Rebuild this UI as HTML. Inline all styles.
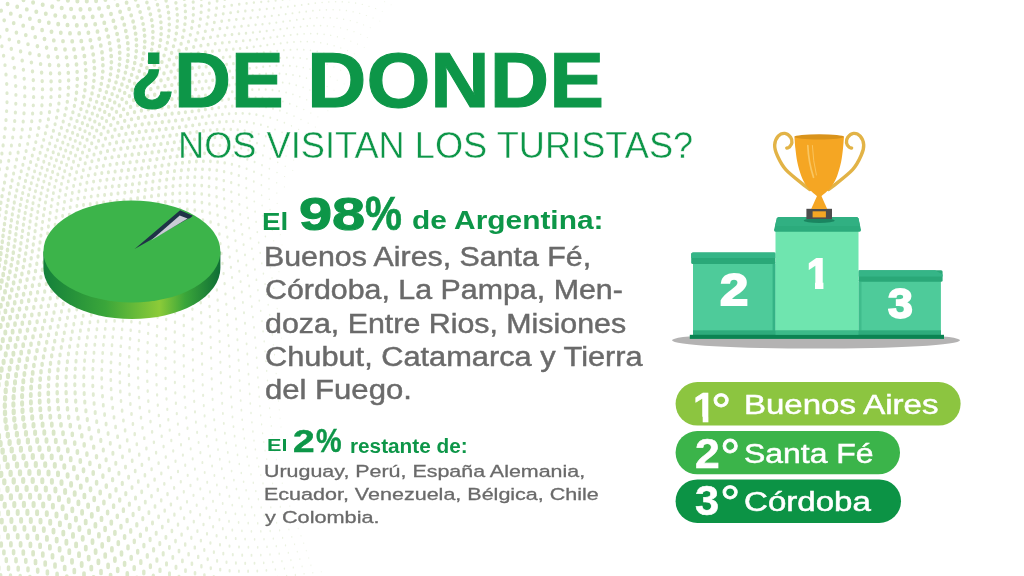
<!DOCTYPE html>
<html lang="es"><head><meta charset="utf-8"><title>¿De donde nos visitan los turistas?</title>
<style>
html,body{margin:0;padding:0}
body{width:1024px;height:576px;position:relative;overflow:hidden;background:#fff;font-family:"Liberation Sans",sans-serif}
.t{position:absolute;line-height:1;white-space:nowrap;transform-origin:0 0}
svg.g{position:absolute;left:0;top:0}

</style></head><body>
<svg class="g" width="1024" height="576" viewBox="0 0 1024 576"><g fill="none" stroke="#dae7c8" stroke-linecap="round"><path stroke-width="0.6" stroke-opacity="0.48" d="M391.2 4.7v0.1M344.2 83.9v0.2M282.0 244.8v0.3M321.3 571.5v0.5"/><path stroke-width="0.7" stroke-opacity="0.49" d="M379.8 21.1v0.1M367.4 37.4v0.1M364.3 47.3v0.1M347.6 73.7v0.2M330.8 100.3v0.2M327.8 110.6v0.2M313.2 137.4v0.2M280.4 234.4v0.3M280.7 281.8v0.3M281.5 338.0v0.4M280.1 418.2v0.5M281.0 426.8v0.4M322.8 579.0v0.5"/><path stroke-width="0.8" stroke-opacity="0.50" d="M382.3 11.3v0.1M370.3 27.7v0.1M354.3 53.8v0.2M350.9 63.7v0.2M334.0 90.2v0.2M317.9 116.8v0.2M315.4 127.0v0.2M302.3 153.8v0.2M292.7 170.3v0.3M284.4 186.8v0.3M278.0 213.7v0.3M279.1 224.1v0.3M280.2 328.3v0.4M278.5 400.8v0.5M279.3 409.6v0.5M276.4 459.2v0.6M278.2 467.3v0.5M280.1 475.2v0.5M282.3 483.0v0.5M284.6 490.7v0.6M287.1 498.3v0.6M289.8 505.8v0.6M292.5 513.3v0.6M295.3 520.7v0.6M298.2 528.2v0.6M301.0 535.5v0.6M303.7 542.9v0.6M306.3 550.3v0.6M308.7 557.7v0.6M310.9 565.0v0.7"/><path stroke-width="0.9" stroke-opacity="0.51" d="M384.6 1.7v0.1M373.1 18.0v0.2M360.7 34.3v0.2M357.5 44.0v0.2M344.1 60.3v0.2M340.7 70.1v0.2M337.3 80.1v0.2M323.8 96.5v0.2M320.8 106.6v0.2M305.9 133.2v0.3M303.9 143.5v0.3M293.6 159.9v0.3M277.2 203.3v0.3M277.1 261.2v0.4M278.9 271.5v0.4M278.7 318.3v0.5M277.0 382.7v0.5M277.7 391.8v0.5M274.9 451.0v0.6M312.8 572.4v0.7M314.3 579.8v0.7"/><path stroke-width="1.0" stroke-opacity="0.52" d="M377.9 -0.8v0.2M375.6 8.5v0.2M366.4 15.4v0.2M363.6 24.8v0.2M350.8 41.1v0.2M347.5 50.6v0.2M333.9 66.9v0.2M330.4 76.7v0.2M327.1 86.5v0.2M310.8 112.9v0.3M308.2 123.0v0.3M294.9 149.6v0.3M284.6 176.4v0.3M276.8 192.9v0.4M275.3 250.9v0.4M277.2 308.3v0.5M275.4 363.9v0.6M276.2 373.3v0.6M272.3 434.2v0.7M273.5 442.7v0.6M283.1 514.1v0.8M286.0 521.6v0.8M288.9 529.1v0.8M291.8 536.5v0.8M294.6 543.9v0.8M297.3 551.3v0.8M299.8 558.7v0.8M302.1 566.0v0.8M304.1 573.4v0.8"/><path stroke-width="1.1" stroke-opacity="0.54" d="M369.0 6.2v0.2M359.7 13.3v0.2M357.0 22.4v0.2M354.0 31.6v0.2M344.1 38.6v0.2M340.8 47.9v0.2M337.3 57.3v0.2M323.6 73.6v0.3M320.2 83.2v0.3M316.9 93.0v0.3M313.7 102.9v0.3M296.6 139.4v0.3M285.2 166.1v0.4M272.2 230.1v0.5M273.7 240.5v0.5M273.8 288.0v0.5M275.5 298.2v0.5M273.4 344.5v0.6M274.5 354.3v0.6M270.4 416.8v0.7M271.3 425.6v0.7M266.7 458.7v0.8M268.5 467.0v0.7M270.5 475.1v0.7M272.6 483.1v0.7M275.0 491.0v0.7M277.6 498.8v0.8M280.3 506.4v0.8M305.8 580.8v0.9"/><path stroke-width="1.2" stroke-opacity="0.55" d="M371.2 -2.9v0.2M362.3 4.3v0.2M353.1 11.7v0.2M350.3 20.5v0.2M340.6 27.8v0.2M347.3 29.5v0.2M337.4 36.7v0.2M334.1 45.7v0.2M330.6 54.8v0.3M327.1 64.1v0.3M309.9 89.9v0.3M306.7 99.6v0.3M303.8 109.3v0.3M301.0 119.3v0.3M298.6 129.3v0.3M286.1 155.8v0.4M276.7 182.5v0.4M269.4 199.0v0.4M270.0 209.3v0.5M271.0 219.7v0.5M270.3 267.3v0.6M272.0 277.6v0.6M271.0 324.7v0.6M272.3 334.7v0.6M268.8 398.8v0.7M269.6 407.9v0.7M263.8 441.7v0.8M265.1 450.2v0.8M260.8 474.6v0.9M263.0 482.9v0.9M265.4 491.0v0.9M268.0 499.0v0.9M270.8 506.9v0.9M273.7 514.6v0.9M276.6 522.3v0.9M279.6 529.9v0.9M282.6 537.4v0.9M285.5 544.9v0.9M288.3 552.3v0.9M290.9 559.7v0.9M293.3 567.1v0.9M295.4 574.4v1"/><path stroke-width="1.3" stroke-opacity="0.56" d="M348.9 2.1v0.2M355.6 3.0v0.2M346.4 10.5v0.2M337.0 18.2v0.2M343.6 19.1v0.2M333.9 26.6v0.2M330.7 35.2v0.2M327.4 43.9v0.3M323.9 52.8v0.3M320.3 61.8v0.3M316.8 71.0v0.3M313.3 80.4v0.3M291.5 125.7v0.4M289.3 135.6v0.4M287.5 145.7v0.4M277.0 172.3v0.4M269.0 188.7v0.5M266.9 246.5v0.6M268.6 256.9v0.6M268.2 304.3v0.7M269.7 314.5v0.7M266.7 370.5v0.8M267.5 380.1v0.7M268.1 389.5v0.7M261.6 424.0v0.8M262.6 432.9v0.8M257.0 457.7v0.9M258.7 466.2v0.9M261.2 506.9v1M264.2 514.9v1M267.2 522.7v1M270.2 530.5v1M273.3 538.1v1M276.3 545.7v1M279.2 553.2v1M281.9 560.7v1M284.4 568.1v1M286.6 575.5v1.1"/><path stroke-width="1.4" stroke-opacity="0.57" d="M335.6 1.6v0.2M342.3 1.7v0.2M333.1 9.6v0.2M339.7 9.9v0.2M330.3 17.7v0.2M327.3 25.9v0.2M324.1 34.2v0.3M320.7 42.6v0.3M317.2 51.3v0.3M313.6 60.0v0.3M310.0 69.0v0.3M306.5 78.0v0.3M303.1 87.3v0.3M299.8 96.6v0.4M296.7 106.2v0.4M294.0 115.9v0.4M278.8 152.0v0.5M277.7 162.1v0.5M269.0 178.5v0.5M262.1 205.2v0.5M263.0 215.4v0.6M264.1 225.7v0.6M265.4 236.1v0.6M265.1 283.7v0.7M266.7 294.0v0.7M264.2 341.0v0.8M265.1 350.9v0.8M266.0 360.8v0.8M259.2 396.3v0.9M259.9 405.7v0.9M260.7 415.0v0.8M254.0 440.1v0.9M255.4 449.0v0.9M249.0 465.1v0.9M251.0 473.8v0.9M253.3 482.3v1M255.8 490.6v1M258.4 498.8v1M254.6 514.8v1.1M257.7 522.8v1.1M260.8 530.8v1.1M264.0 538.6v1.1M267.0 546.3v1.1M270.0 554.0v1.1M272.8 561.5v1.1M275.4 569.0v1.1"/><path stroke-width="1.5" stroke-opacity="0.59" d="M322.1 2.4v0.2M328.8 1.9v0.2M319.7 10.1v0.2M326.4 9.7v0.2M316.9 17.7v0.3M323.6 17.6v0.2M314.0 25.6v0.3M320.6 25.5v0.3M310.7 33.5v0.3M317.4 33.6v0.3M307.3 41.5v0.3M314.0 41.8v0.3M303.8 49.6v0.3M310.5 50.2v0.3M306.9 58.7v0.3M303.3 67.4v0.3M299.7 76.1v0.4M296.2 85.1v0.4M292.9 94.2v0.4M289.8 103.5v0.4M286.9 112.9v0.4M284.4 122.5v0.4M282.1 132.2v0.4M280.2 142.0v0.5M269.4 168.4v0.5M261.6 194.9v0.5M261.8 263.0v0.7M263.4 273.3v0.7M262.0 320.7v0.8M263.1 330.9v0.8M257.9 377.1v0.9M258.6 386.8v0.9M251.0 412.5v1M251.9 421.9v0.9M252.9 431.1v0.9M244.3 438.1v1M245.7 447.3v1M247.2 456.3v1M239.3 463.5v1M241.3 472.4v1M243.6 481.2v1M246.1 489.8v1M248.8 498.3v1M251.6 506.6v1.1M248.2 522.6v1.1M251.4 530.7v1.2M254.6 538.7v1.2M257.7 546.7v1.2M260.8 554.5v1.2M263.7 562.2v1.2M277.7 576.4v1.2"/><path stroke-width="1.6" stroke-opacity="0.60" d="M315.3 3.1v0.2M312.9 10.6v0.3M310.2 18.2v0.3M307.3 25.9v0.3M304.1 33.7v0.3M300.7 41.5v0.3M297.2 49.4v0.3M300.2 57.9v0.3M296.6 66.2v0.4M293.0 74.8v0.4M289.4 83.4v0.4M286.1 92.3v0.4M282.9 101.3v0.4M279.9 110.4v0.5M277.3 119.7v0.5M275.0 129.2v0.5M273.0 138.8v0.5M271.4 148.5v0.5M270.2 158.4v0.5M261.4 184.8v0.6M254.3 201.2v0.6M255.1 211.3v0.6M256.1 221.5v0.7M257.3 231.8v0.7M258.7 242.2v0.7M260.2 252.6v0.7M257.9 289.8v0.8M259.3 300.2v0.8M260.7 310.5v0.8M255.8 347.3v0.9M256.6 357.3v0.9M257.3 367.3v0.9M249.7 393.4v1M250.3 403.0v1M242.2 419.3v1M243.2 428.8v1M235.9 445.0v1.1M237.5 454.4v1M229.5 461.3v1.1M231.6 470.5v1.1M233.9 479.6v1.1M236.4 488.5v1.1M239.1 497.3v1.1M232.3 504.6v1.2M242.0 505.9v1.1M235.4 513.3v1.2M245.0 514.3v1.1M238.6 521.9v1.2M241.9 530.3v1.2M245.1 538.6v1.2M248.4 546.6v1.3M266.4 569.8v1.2M268.8 577.3v1.3"/><path stroke-width="1.7" stroke-opacity="0.61" d="M303.6 -2.7v0.3M310.5 -3.6v0.2M301.7 4.8v0.3M308.5 3.9v0.3M299.4 12.2v0.3M306.2 11.4v0.3M296.8 19.7v0.3M303.5 18.9v0.3M300.6 26.5v0.3M297.4 34.1v0.3M294.0 41.8v0.3M290.5 49.5v0.4M293.5 57.4v0.4M289.9 65.6v0.4M286.2 73.9v0.4M282.7 82.3v0.4M279.2 90.9v0.4M262.9 155.1v0.6M262.0 164.8v0.6M261.5 174.7v0.6M253.9 191.1v0.6M253.3 258.6v0.8M254.9 269.0v0.8M256.4 279.4v0.8M252.9 316.6v0.9M254.0 326.9v0.9M255.0 337.1v0.9M247.9 363.7v1M248.5 373.7v1M249.1 383.6v1M240.1 390.1v1M240.7 400.0v1M241.4 409.7v1M232.5 416.3v1.1M233.5 426.0v1.1M224.9 432.7v1.1M234.6 435.6v1.1M226.2 442.3v1.1M218.0 449.0v1.1M227.8 451.9v1.1M219.8 458.7v1.1M221.8 468.2v1.1M214.4 474.9v1.2M224.1 477.5v1.1M216.9 484.4v1.2M226.7 486.7v1.2M219.7 493.7v1.2M229.4 495.7v1.2M222.7 502.9v1.2M225.8 511.8v1.3M229.0 520.7v1.3M232.3 529.4v1.3M235.7 537.9v1.3M251.5 554.6v1.3M254.5 562.5v1.3M257.3 570.3v1.3M259.8 578.0v1.4"/><path stroke-width="1.8" stroke-opacity="0.63" d="M296.7 -1.9v0.3M294.8 5.7v0.3M292.5 13.1v0.3M290.0 20.6v0.3M287.1 28.1v0.3M293.9 27.3v0.3M290.7 34.8v0.3M287.3 42.3v0.4M283.8 50.0v0.4M286.9 57.4v0.4M283.2 65.3v0.4M279.5 73.4v0.4M275.9 81.6v0.4M276.0 99.5v0.5M273.0 108.4v0.5M270.3 117.4v0.5M267.9 126.6v0.5M265.8 136.0v0.5M264.2 145.4v0.6M253.8 181.2v0.6M246.6 197.5v0.7M247.2 207.5v0.7M248.1 217.6v0.7M249.2 227.7v0.7M250.5 237.9v0.8M251.9 248.3v0.8M249.2 285.5v0.9M250.5 295.9v0.9M251.8 306.2v0.9M245.8 333.0v1M246.6 343.3v1M247.3 353.5v1M239.1 370.0v1M239.6 380.1v1M230.6 386.4v1.1M231.1 396.5v1.1M231.8 406.4v1.1M222.9 412.9v1.1M223.8 422.8v1.1M215.2 429.2v1.2M216.5 439.2v1.2M208.3 445.6v1.2M210.1 455.5v1.2M202.4 462.0v1.2M212.1 465.3v1.2M204.7 471.9v1.2M207.2 481.6v1.3M210.0 491.2v1.3M213.0 500.6v1.3M216.1 509.9v1.3M219.4 519.0v1.4M222.8 528.0v1.4M239.0 546.3v1.3M242.2 554.5v1.4M245.2 562.6v1.4M248.1 570.5v1.4M250.7 578.4v1.5"/><path stroke-width="1.9" stroke-opacity="0.64" d="M282.6 -0.2v0.3M289.7 -1.0v0.3M287.9 6.5v0.3M285.7 14.0v0.3M283.2 21.5v0.3M280.4 29.0v0.4M284.0 35.6v0.4M280.7 43.1v0.4M277.2 50.6v0.4M280.2 57.7v0.4M276.5 65.5v0.4M272.8 73.3v0.4M269.2 81.2v0.5M272.5 89.8v0.5M269.2 98.3v0.5M266.1 106.9v0.5M263.3 115.7v0.5M260.9 124.5v0.6M258.7 133.6v0.6M257.0 142.8v0.6M255.6 152.2v0.6M254.6 161.7v0.6M254.0 171.4v0.6M246.3 187.7v0.7M245.0 254.4v0.8M246.4 264.7v0.9M247.8 275.1v0.9M242.9 302.0v0.9M244.0 312.3v1M245.0 322.7v1M237.4 339.2v1M238.0 349.5v1M238.6 359.8v1M229.7 365.9v1.1M230.1 376.2v1.1M221.1 382.4v1.1M221.6 392.7v1.1M212.6 398.8v1.2M222.2 402.8v1.1M203.8 405.0v1.2M213.3 409.1v1.2M204.6 415.3v1.2M214.2 419.2v1.2M195.9 421.5v1.2M205.6 425.5v1.2M197.1 431.8v1.2M206.8 435.6v1.2M198.6 441.9v1.2M190.7 448.2v1.3M200.4 452.0v1.2M192.7 458.3v1.3M194.9 468.4v1.3M197.5 478.4v1.3M200.3 488.2v1.3M203.3 497.9v1.4M206.4 507.4v1.4M209.7 516.8v1.4M226.1 536.8v1.4M229.5 545.4v1.4M232.8 553.9v1.5M235.9 562.2v1.5M238.9 570.4v1.5"/><path stroke-width="2.0" stroke-opacity="0.66" d="M275.6 0.5v0.3M273.9 8.1v0.3M280.9 7.3v0.3M278.8 14.9v0.3M276.3 22.4v0.4M273.6 29.9v0.4M277.3 36.5v0.4M274.0 43.9v0.4M270.5 51.4v0.4M273.5 58.2v0.4M269.8 65.9v0.4M266.1 73.5v0.5M265.7 89.3v0.5M262.4 97.5v0.5M259.3 105.9v0.5M246.6 168.4v0.7M246.2 178.0v0.7M238.9 194.3v0.8M239.4 204.0v0.8M240.2 213.9v0.8M241.2 223.9v0.8M242.3 234.0v0.8M243.6 244.2v0.8M239.3 270.8v0.9M240.6 281.2v0.9M241.8 291.6v0.9M235.1 308.0v1M236.0 318.4v1M236.7 328.8v1M228.3 334.9v1.1M228.8 345.2v1.1M220.0 351.4v1.1M229.3 355.6v1.1M220.4 361.7v1.1M211.4 367.9v1.1M220.7 372.1v1.1M202.4 373.9v1.2M211.7 378.2v1.2M202.7 384.3v1.2M212.1 388.5v1.2M193.7 390.4v1.2M203.1 394.7v1.2M194.2 400.8v1.2M185.4 406.9v1.2M195.0 411.2v1.2M186.3 417.3v1.2M177.9 423.4v1.3M187.5 427.6v1.3M179.3 433.7v1.3M188.9 437.9v1.3M181.0 444.1v1.3M182.9 454.4v1.3M185.2 464.6v1.3M187.7 474.7v1.4M190.5 484.8v1.4M193.5 494.7v1.4M196.7 504.5v1.5M200.1 514.1v1.5M213.1 526.0v1.5M216.6 535.1v1.5M220.0 544.1v1.5M223.3 552.8v1.6M226.5 561.4v1.6M229.6 569.9v1.6M241.6 578.4v1.6"/><path stroke-width="2.1" stroke-opacity="0.68" d="M268.4 1.2v0.3M266.8 8.8v0.3M271.8 15.7v0.3M269.5 23.2v0.4M266.7 30.8v0.4M270.5 37.4v0.4M267.3 44.9v0.4M263.8 52.3v0.4M266.9 59.0v0.4M263.2 66.5v0.5M259.5 74.1v0.5M262.5 81.3v0.5M259.0 89.2v0.5M255.6 97.2v0.6M256.4 114.3v0.6M253.9 123.0v0.6M251.7 131.8v0.6M249.8 140.7v0.6M248.4 149.8v0.7M247.3 159.0v0.7M238.7 184.7v0.8M233.3 220.3v0.9M234.3 230.2v0.9M235.5 240.2v0.9M236.7 250.4v0.9M238.0 260.6v0.9M232.0 277.0v1M233.1 287.3v1M234.2 297.6v1M226.3 303.7v1.1M227.1 314.1v1.1M218.8 320.2v1.1M227.7 324.5v1.1M219.3 330.6v1.1M210.6 336.7v1.1M219.7 341.0v1.1M210.9 347.1v1.1M201.9 353.1v1.2M211.1 357.5v1.1M192.9 359.3v1.2M202.1 363.5v1.2M183.8 365.4v1.2M193.0 369.6v1.2M174.7 371.6v1.2M184.0 375.8v1.2M193.3 380.0v1.2M174.9 381.9v1.2M184.3 386.1v1.2M175.3 392.2v1.2M184.7 396.5v1.2M166.5 398.3v1.3M175.9 402.6v1.3M167.3 408.7v1.3M176.8 413.0v1.3M168.3 419.1v1.3M169.7 429.5v1.3M171.3 439.8v1.4M173.2 450.2v1.4M175.5 460.5v1.4M178.0 470.8v1.4M180.8 481.0v1.5M183.8 491.1v1.5M187.0 501.1v1.5M203.5 523.7v1.5M207.0 533.0v1.6M210.4 542.2v1.6M213.9 551.3v1.6M217.1 560.1v1.7M232.4 578.1v1.7"/><path stroke-width="2.2" stroke-opacity="0.69" d="M261.2 1.8v0.3M259.7 9.4v0.4M264.8 16.4v0.4M262.5 24.0v0.4M259.9 31.6v0.4M263.8 38.3v0.4M260.5 45.8v0.4M257.1 53.2v0.5M260.2 59.8v0.5M256.5 67.3v0.5M252.8 74.8v0.5M255.8 81.7v0.5M252.3 89.4v0.6M248.8 97.2v0.6M252.4 105.3v0.6M249.5 113.5v0.6M246.9 121.9v0.6M244.7 130.4v0.7M242.8 139.0v0.7M241.2 147.9v0.7M240.0 156.8v0.7M239.2 166.0v0.7M238.8 175.2v0.8M231.3 191.5v0.8M231.7 201.0v0.8M232.4 210.6v0.8M227.4 236.7v0.9M228.5 246.6v1M229.7 256.6v1M230.9 266.8v1M223.6 273.1v1M224.6 283.2v1M225.5 293.5v1M217.6 299.6v1.1M218.2 309.9v1.1M209.9 316.1v1.1M201.4 322.3v1.1M210.3 326.4v1.1M192.6 328.6v1.2M201.6 332.5v1.2M183.7 334.9v1.2M192.7 338.7v1.2M201.8 342.8v1.2M174.7 341.4v1.2M183.7 345.0v1.2M192.8 349.0v1.2M165.6 347.8v1.2M174.6 351.3v1.2M183.7 355.2v1.2M156.4 354.4v1.2M165.5 357.7v1.2M174.6 361.4v1.2M156.3 364.2v1.3M165.5 367.8v1.2M156.3 374.1v1.3M165.6 377.8v1.3M156.6 384.1v1.3M165.9 388.1v1.3M157.1 394.3v1.3M157.8 404.5v1.3M158.8 414.8v1.4M160.1 425.1v1.4M161.7 435.5v1.4M163.6 445.9v1.4M165.8 456.3v1.5M168.3 466.6v1.5M171.0 477.0v1.5M174.1 487.2v1.6M177.3 497.4v1.6M190.4 511.0v1.6M193.8 520.8v1.6M197.4 530.4v1.6M200.9 539.8v1.7M204.3 549.2v1.7M220.2 568.8v1.7M223.1 577.4v1.8"/><path stroke-width="2.3" stroke-opacity="0.71" d="M253.9 2.4v0.4M252.5 10.1v0.4M257.8 17.1v0.4M255.6 24.7v0.4M253.0 32.3v0.4M256.9 39.1v0.4M253.8 46.6v0.5M250.4 54.1v0.5M253.5 60.7v0.5M249.8 68.2v0.5M249.1 82.3v0.6M245.6 89.9v0.6M245.7 105.1v0.6M242.7 113.1v0.6M240.0 121.2v0.7M237.7 129.5v0.7M231.9 164.0v0.8M231.4 173.0v0.8M231.2 182.2v0.8M224.1 198.4v0.9M224.7 207.7v0.9M225.4 217.2v0.9M226.3 226.9v0.9M220.4 243.2v1M221.5 253.0v1M222.5 263.0v1M215.2 269.4v1.1M216.1 279.4v1.1M208.3 285.8v1.1M216.9 289.4v1.1M200.4 292.2v1.1M208.9 295.8v1.1M192.2 298.8v1.1M200.8 302.2v1.1M209.5 305.9v1.1M183.7 305.4v1.2M192.4 308.6v1.2M201.1 312.2v1.1M166.5 309.6v1.2M175.1 312.1v1.2M183.8 315.1v1.2M192.5 318.5v1.2M157.6 316.6v1.2M166.2 318.9v1.2M175.0 321.7v1.2M183.8 325.0v1.2M148.5 323.7v1.2M157.2 325.8v1.2M166.0 328.4v1.2M174.8 331.5v1.2M139.4 331.0v1.2M148.1 332.8v1.2M156.9 335.2v1.2M165.8 338.1v1.2M138.9 339.9v1.3M147.7 342.1v1.2M156.6 344.7v1.2M138.4 349.0v1.3M147.4 351.5v1.3M138.1 358.3v1.3M147.2 361.0v1.3M138.0 367.7v1.3M147.1 370.7v1.3M138.1 377.3v1.3M147.3 380.6v1.3M138.4 387.0v1.4M147.7 390.5v1.3M139.0 396.9v1.4M148.3 400.5v1.4M149.3 410.7v1.4M150.5 420.9v1.4M152.1 431.2v1.5M153.9 441.6v1.5M156.1 452.0v1.5M158.6 462.4v1.5M161.3 472.7v1.6M164.3 483.1v1.6M180.7 507.5v1.6M184.1 517.4v1.7M187.7 527.3v1.7M191.3 537.0v1.8M207.7 558.3v1.8M210.8 567.3v1.8M213.8 576.1v1.9"/><path stroke-width="2.4" stroke-opacity="0.73" d="M246.6 3.2v0.4M245.3 10.8v0.4M250.7 17.7v0.4M248.5 25.4v0.4M246.0 33.0v0.5M250.1 39.9v0.5M247.0 47.4v0.5M243.6 55.0v0.5M246.8 61.6v0.5M243.2 69.0v0.6M246.1 75.6v0.6M242.5 83.1v0.6M238.9 90.6v0.6M242.1 97.6v0.6M238.9 105.3v0.6M235.9 113.1v0.7M233.2 121.0v0.7M235.7 137.9v0.7M234.1 146.5v0.7M232.8 155.1v0.8M224.1 171.2v0.8M223.8 180.1v0.9M223.8 189.1v0.9M216.6 196.3v0.9M217.0 205.4v0.9M217.6 214.6v0.9M218.5 224.0v1M219.4 233.5v1M212.4 240.3v1M213.3 249.8v1M206.1 256.5v1.1M214.2 259.6v1M206.9 266.1v1.1M199.3 272.8v1.1M207.6 275.9v1.1M191.5 279.6v1.1M199.9 282.5v1.1M175.1 284.3v1.1M183.4 286.5v1.1M191.8 289.1v1.1M142.1 288.4v1.2M150.2 289.0v1.2M158.5 289.9v1.2M166.8 291.4v1.2M175.1 293.4v1.2M183.6 295.8v1.2M133.4 296.3v1.2M141.6 296.7v1.2M149.9 297.4v1.2M158.2 298.7v1.2M166.6 300.4v1.2M175.1 302.7v1.2M124.5 304.3v1.2M132.8 304.4v1.2M141.1 305.0v1.2M149.5 306.0v1.2M157.9 307.6v1.2M123.7 312.3v1.2M132.1 312.7v1.2M140.5 313.5v1.2M149.0 314.8v1.2M122.9 320.4v1.2M131.4 321.1v1.2M139.9 322.2v1.2M122.1 328.7v1.3M130.7 329.6v1.2M121.4 337.1v1.3M130.1 338.2v1.3M120.8 345.6v1.3M129.6 347.1v1.3M129.2 356.1v1.3M128.9 365.2v1.4M128.9 374.5v1.4M129.1 384.0v1.4M129.6 393.6v1.4M130.4 403.3v1.5M139.8 406.9v1.4M141.0 416.9v1.5M142.5 427.1v1.5M144.3 437.4v1.5M146.4 447.6v1.6M148.9 458.0v1.6M151.6 468.4v1.6M167.5 493.3v1.7M170.9 503.6v1.7M174.4 513.7v1.8M178.0 523.8v1.8M194.8 546.6v1.8M198.2 556.0v1.9M201.4 565.3v1.9"/><path stroke-width="2.5" stroke-opacity="0.74" d="M240.0 -3.4v0.4M239.2 4.1v0.4M243.6 18.4v0.4M241.5 26.0v0.5M239.0 33.6v0.5M243.2 40.6v0.5M240.1 48.2v0.5M240.1 62.5v0.5M236.5 70.0v0.6M239.5 76.5v0.6M235.8 84.0v0.6M232.2 91.5v0.6M235.4 98.2v0.6M232.2 105.7v0.7M229.1 113.4v0.7M230.8 129.1v0.7M228.7 137.2v0.8M227.0 145.5v0.8M225.7 153.9v0.8M224.7 162.5v0.8M216.5 178.6v0.9M216.4 187.3v0.9M209.4 203.4v1M209.9 212.4v1M210.6 221.5v1M203.6 228.6v1M211.5 230.8v1M204.4 237.7v1.1M197.2 244.8v1.1M205.2 247.0v1.1M189.9 251.9v1.1M197.9 254.0v1.1M182.4 259.1v1.1M190.5 261.0v1.1M198.6 263.3v1.1M120.0 266.6v1.2M127.6 265.8v1.1M135.3 265.0v1.1M143.0 264.6v1.1M150.8 264.4v1.1M158.7 264.7v1.1M166.7 265.3v1.1M174.7 266.5v1.1M182.8 268.1v1.1M191.0 270.2v1.1M111.9 275.0v1.2M119.5 274.1v1.2M127.2 273.3v1.2M134.9 272.7v1.2M142.8 272.4v1.1M150.7 272.5v1.1M158.7 273.0v1.1M166.8 273.9v1.1M174.9 275.3v1.1M183.2 277.2v1.1M111.1 282.4v1.2M118.8 281.6v1.2M126.6 280.9v1.2M134.5 280.5v1.2M142.5 280.4v1.2M150.5 280.6v1.2M158.6 281.3v1.2M166.8 282.5v1.2M110.2 289.9v1.2M118.1 289.1v1.2M126.0 288.6v1.2M134.0 288.3v1.2M109.3 297.4v1.2M117.3 296.8v1.2M125.3 296.4v1.2M108.3 305.0v1.2M116.4 304.5v1.2M107.3 312.6v1.3M115.5 312.3v1.2M106.2 320.4v1.3M114.6 320.2v1.3M113.6 328.2v1.3M112.8 336.4v1.3M112.0 344.6v1.4M111.4 353.1v1.4M120.3 354.3v1.4M119.9 363.2v1.4M119.8 372.2v1.4M119.9 381.4v1.5M120.3 390.7v1.5M121.0 400.3v1.5M131.5 413.2v1.5M132.9 423.2v1.6M134.7 433.3v1.6M136.8 443.5v1.6M139.2 453.7v1.7M154.6 478.8v1.7M157.8 489.1v1.7M161.2 499.4v1.8M164.7 509.8v1.8M181.6 533.7v1.9M185.2 543.6v1.9M188.6 553.2v2M204.4 574.4v2"/><path stroke-width="2.6" stroke-opacity="0.76" d="M232.4 -2.2v0.4M231.7 5.1v0.4M238.0 11.6v0.4M236.3 19.2v0.4M234.4 26.7v0.5M236.3 41.3v0.5M233.3 48.9v0.5M236.8 55.8v0.5M233.4 63.3v0.6M229.8 70.9v0.6M232.8 77.4v0.6M229.1 84.9v0.6M228.7 98.9v0.7M225.5 106.4v0.7M222.4 114.0v0.7M226.4 121.2v0.7M223.9 129.0v0.8M221.8 136.9v0.8M220.0 145.0v0.8M218.6 153.2v0.8M217.6 161.5v0.9M216.8 169.9v0.9M209.2 177.5v0.9M209.0 186.0v0.9M201.7 193.5v1M209.1 194.7v0.9M201.9 202.1v1M202.3 210.8v1M195.3 218.2v1M202.9 219.6v1M195.8 226.8v1.1M188.7 234.2v1.1M196.5 235.7v1.1M92.8 248.2v1.1M99.8 247.4v1.1M106.9 246.4v1.1M114.1 245.4v1.1M121.3 244.4v1.1M128.6 243.3v1.1M173.7 240.9v1.1M181.5 241.7v1.1M189.3 243.0v1.1M92.1 255.7v1.2M99.2 254.8v1.1M106.4 253.8v1.1M113.6 252.8v1.1M120.9 251.8v1.1M128.3 250.8v1.1M135.8 249.9v1.1M143.3 249.2v1.1M150.9 248.7v1.1M158.5 248.5v1.1M166.2 248.7v1.1M174.1 249.3v1.1M181.9 250.3v1.1M91.3 263.2v1.2M98.5 262.2v1.2M105.8 261.2v1.2M113.1 260.2v1.1M120.5 259.2v1.1M128.0 258.2v1.1M135.6 257.4v1.1M143.2 256.8v1.1M150.9 256.5v1.1M158.6 256.5v1.1M166.5 256.9v1.1M174.4 257.8v1.1M90.4 270.7v1.2M97.7 269.7v1.2M105.1 268.6v1.2M112.5 267.6v1.2M89.4 278.1v1.2M96.8 277.1v1.2M104.3 276.0v1.2M88.4 285.5v1.2M95.9 284.5v1.2M103.4 283.4v1.2M94.8 291.9v1.2M102.5 290.9v1.2M93.6 299.2v1.3M101.4 298.3v1.2M92.4 306.7v1.3M100.3 305.7v1.3M91.2 314.1v1.3M99.2 313.3v1.3M98.0 320.9v1.3M96.9 328.5v1.4M105.2 328.2v1.3M95.8 336.2v1.4M104.3 336.1v1.4M103.4 344.2v1.4M102.7 352.4v1.4M102.1 360.6v1.5M111.0 361.7v1.4M110.8 370.4v1.5M110.8 379.3v1.5M111.1 388.4v1.5M122.1 409.9v1.6M123.4 419.7v1.6M125.1 429.5v1.7M127.2 439.6v1.7M141.9 464.1v1.7M144.9 474.4v1.8M148.1 484.8v1.8M151.5 495.2v1.9M168.3 519.9v1.9M171.9 530.0v2M175.5 540.1v2M191.9 562.8v2M195.0 572.2v2.1"/><path stroke-width="2.7" stroke-opacity="0.78" d="M224.8 -0.8v0.4M224.2 6.4v0.4M230.6 12.5v0.4M229.1 20.0v0.5M227.2 27.5v0.5M232.0 34.3v0.5M229.3 42.0v0.5M226.4 49.6v0.6M230.0 56.5v0.6M226.6 64.1v0.6M223.0 71.7v0.6M226.1 78.4v0.6M222.5 85.8v0.7M225.5 92.3v0.7M222.1 99.8v0.7M218.8 107.3v0.7M215.7 114.7v0.8M219.6 121.6v0.8M217.1 129.3v0.8M214.9 137.1v0.8M213.1 144.9v0.8M211.6 152.9v0.9M210.4 160.9v0.9M209.6 169.2v0.9M201.9 176.9v1M201.7 185.1v1M194.3 192.9v1M76.0 212.9v1.1M82.7 212.0v1.1M89.4 211.1v1.1M187.1 200.7v1M194.5 201.2v1M75.1 220.4v1.1M81.9 219.5v1.1M88.6 218.7v1.1M95.4 217.9v1.1M102.2 217.2v1.1M187.3 208.9v1.1M194.8 209.6v1M74.4 227.9v1.1M81.1 227.1v1.1M87.9 226.3v1.1M94.7 225.5v1.1M101.6 224.8v1.1M108.4 223.9v1.1M115.4 223.0v1.1M122.3 222.1v1.1M180.1 216.7v1.1M187.7 217.2v1.1M73.6 235.5v1.1M80.4 234.7v1.1M87.2 233.9v1.1M94.1 233.1v1.1M101.0 232.3v1.1M107.9 231.4v1.1M114.9 230.5v1.1M122.0 229.5v1.1M129.1 228.5v1.1M136.2 227.5v1.1M143.5 226.5v1.1M165.5 224.6v1.1M173.0 224.6v1.1M180.5 224.9v1.1M188.1 225.6v1.1M72.8 243.0v1.2M79.6 242.3v1.1M86.5 241.5v1.1M93.4 240.7v1.1M100.4 239.8v1.1M107.4 238.9v1.1M114.5 238.0v1.1M121.6 236.9v1.1M128.8 235.9v1.1M136.1 234.9v1.1M143.4 234.0v1.1M150.8 233.3v1.1M158.2 232.8v1.1M165.7 232.5v1.1M173.3 232.7v1.1M181.0 233.2v1.1M71.9 250.6v1.2M78.8 249.8v1.2M85.8 249.1v1.1M135.9 242.4v1.1M143.3 241.6v1.1M150.8 240.9v1.1M158.4 240.6v1.1M166.0 240.5v1.1M71.0 258.2v1.2M78.0 257.4v1.2M85.0 256.6v1.2M77.0 265.0v1.2M84.1 264.1v1.2M76.0 272.5v1.2M83.2 271.6v1.2M74.8 280.0v1.3M82.1 279.1v1.2M80.9 286.5v1.3M79.6 293.9v1.3M87.2 292.9v1.3M78.3 301.4v1.3M85.9 300.3v1.3M84.6 307.7v1.3M83.2 315.1v1.4M89.9 321.6v1.4M88.6 329.1v1.4M87.4 336.7v1.5M94.8 344.1v1.4M94.0 352.0v1.5M93.3 360.1v1.5M101.8 369.1v1.5M101.7 377.7v1.6M101.9 386.5v1.6M111.7 397.6v1.6M112.7 407.0v1.6M114.0 416.5v1.7M115.6 426.2v1.7M129.5 449.7v1.8M132.2 459.9v1.8M135.2 470.2v1.8M138.3 480.5v1.9M155.0 505.5v1.9M158.6 515.8v2M162.3 526.1v2M179.0 550.0v2.1M182.4 559.8v2.1M185.5 569.5v2.2"/><path stroke-width="2.8" stroke-opacity="0.80" d="M217.1 0.9v0.4M223.2 13.6v0.5M221.7 21.0v0.5M219.9 28.4v0.5M224.9 35.1v0.5M222.3 42.6v0.6M219.4 50.2v0.6M223.2 57.2v0.6M219.8 64.8v0.6M216.3 72.4v0.7M219.4 79.2v0.7M215.8 86.7v0.7M218.9 93.3v0.7M215.4 100.7v0.7M212.1 108.1v0.8M209.0 115.6v0.8M212.8 122.3v0.8M210.3 129.8v0.8M208.1 137.4v0.9M206.2 145.1v0.9M204.6 152.9v0.9M54.7 186.4v1M61.5 183.4v1M68.3 180.9v1M203.4 160.8v0.9M53.4 192.7v1M60.2 190.0v1M66.9 187.6v1M73.6 185.5v1M80.3 183.8v1M195.4 168.8v1M202.5 168.8v0.9M52.2 199.1v1.1M59.0 196.6v1M65.6 194.4v1M72.3 192.5v1M79.0 191.0v1M85.7 189.7v1M92.3 188.6v1M194.8 176.7v1M51.2 205.7v1.1M57.9 203.3v1.1M64.5 201.3v1.1M71.2 199.7v1M77.9 198.2v1M84.5 197.1v1M91.2 196.1v1M97.9 195.2v1M187.2 184.7v1M194.4 184.8v1M50.2 212.3v1.1M56.9 210.2v1.1M63.5 208.3v1.1M70.2 206.8v1.1M76.9 205.5v1.1M83.5 204.5v1.1M90.2 203.6v1.1M96.9 202.7v1.1M103.6 202.0v1.1M110.4 201.2v1.1M179.8 192.8v1M187.0 192.7v1M56.0 217.1v1.1M62.6 215.5v1.1M69.3 214.1v1.1M96.1 210.3v1.1M102.8 209.6v1.1M109.6 208.8v1.1M116.4 208.0v1.1M123.3 207.1v1.1M130.2 206.2v1.1M172.5 200.9v1.1M179.8 200.6v1.1M55.1 224.2v1.1M61.8 222.7v1.1M68.5 221.5v1.1M109.0 216.4v1.1M115.9 215.5v1.1M122.8 214.6v1.1M129.7 213.6v1.1M136.7 212.6v1.1M143.8 211.6v1.1M150.9 210.7v1.1M158.0 209.8v1.1M165.3 209.1v1.1M172.5 208.7v1.1M179.9 208.6v1.1M54.2 231.3v1.2M60.9 230.0v1.1M67.6 228.9v1.1M129.4 221.1v1.1M136.4 220.0v1.1M143.6 219.1v1.1M150.8 218.1v1.1M158.0 217.4v1.1M165.3 216.8v1.1M172.7 216.6v1.1M53.4 238.6v1.2M60.1 237.3v1.2M66.8 236.3v1.1M150.7 225.7v1.1M158.1 225.0v1.1M59.2 244.8v1.2M66.0 243.8v1.2M58.2 252.2v1.2M65.1 251.4v1.2M64.1 258.9v1.2M63.0 266.5v1.3M70.0 265.7v1.2M61.8 274.1v1.3M68.9 273.3v1.3M67.6 280.8v1.3M66.2 288.4v1.3M73.6 287.5v1.3M72.2 295.0v1.3M70.7 302.4v1.4M76.8 308.7v1.4M75.3 316.1v1.4M73.8 323.5v1.5M81.8 322.5v1.4M80.4 329.9v1.5M79.1 337.4v1.5M86.3 344.3v1.5M85.4 352.1v1.5M84.6 359.9v1.6M92.9 368.3v1.6M92.7 376.6v1.6M102.5 395.4v1.7M103.3 404.5v1.7M104.6 413.7v1.8M117.6 435.9v1.8M119.9 445.9v1.8M122.5 455.9v1.9M141.7 490.8v2M145.3 501.2v2M148.9 511.6v2.1M165.9 536.3v2.1M169.4 546.4v2.2M172.8 556.4v2.2M188.5 579.0v2.2"/><path stroke-width="2.9" stroke-opacity="0.82" d="M209.2 -3.7v0.4M209.3 3.0v0.5M216.6 7.9v0.5M215.7 15.0v0.5M214.3 22.2v0.5M212.6 29.5v0.5M217.8 35.9v0.5M215.2 43.4v0.6M212.4 51.0v0.6M216.3 57.9v0.6M213.0 65.5v0.7M209.5 73.1v0.7M212.7 80.0v0.7M209.1 87.6v0.7M205.5 95.0v0.8M212.2 94.2v0.7M208.7 101.6v0.8M205.4 109.1v0.8M36.3 164.8v1M43.8 161.3v1M51.2 157.6v1M202.3 116.6v0.8M34.6 170.9v1M41.9 167.2v1M49.2 163.5v1M56.4 159.7v1M63.6 155.9v1M199.4 124.0v0.9M206.1 123.1v0.8M32.9 176.9v1M40.1 173.2v1M47.3 169.4v1M54.4 165.6v1M61.5 161.9v1M68.6 158.3v1M203.5 130.5v0.9M31.3 182.8v1M38.4 179.0v1M45.5 175.2v1M52.6 171.5v1M59.6 167.9v1M66.6 164.5v1M73.5 161.3v1M201.3 138.1v0.9M29.8 188.7v1.1M36.9 184.9v1M43.9 181.1v1M50.9 177.4v1M57.8 173.9v1M64.7 170.7v1M71.6 167.7v1M78.4 165.1v1M199.3 145.7v0.9M35.5 190.7v1.1M42.4 187.1v1M49.3 183.5v1M56.2 180.1v1M63.0 177.0v1M69.8 174.2v1M76.6 171.8v1M83.3 169.7v1M90.1 167.9v1M197.7 153.3v0.9M34.2 196.6v1.1M41.1 193.0v1.1M47.9 189.6v1M75.0 178.6v1M81.7 176.7v1M88.4 175.1v1M95.1 173.7v1M189.4 161.5v1M196.4 161.0v1M33.0 202.6v1.1M39.9 199.0v1.1M46.7 195.7v1.1M86.9 182.3v1M93.6 181.1v1M100.3 180.1v1M106.9 179.3v1M188.4 169.2v1M38.8 205.2v1.1M45.5 202.0v1.1M99.0 187.6v1M105.7 186.8v1M112.3 186.0v1.1M180.6 177.4v1M187.7 176.9v1M37.8 211.4v1.1M44.5 208.4v1.1M104.6 194.4v1.1M111.3 193.6v1.1M118.0 192.9v1.1M124.8 192.1v1.1M131.5 191.2v1.1M173.0 185.6v1.1M180.1 185.1v1M36.8 217.6v1.2M43.5 214.8v1.1M117.1 200.5v1.1M123.9 199.6v1.1M130.8 198.7v1.1M137.6 197.8v1.1M144.5 196.8v1.1M151.5 195.8v1.1M158.5 194.8v1.1M165.5 193.9v1.1M172.7 193.2v1.1M42.6 221.4v1.2M49.3 219.1v1.1M137.1 205.2v1.1M144.1 204.2v1.1M151.1 203.2v1.1M158.2 202.3v1.1M165.3 201.5v1.1M41.8 228.1v1.2M48.4 226.0v1.2M47.6 232.9v1.2M46.7 240.0v1.2M45.7 247.1v1.3M52.5 245.9v1.2M51.5 253.2v1.3M50.4 260.6v1.3M57.2 259.7v1.3M56.0 267.3v1.3M54.8 274.8v1.3M60.5 281.6v1.3M59.0 289.2v1.4M64.8 295.8v1.4M63.2 303.3v1.4M61.5 310.7v1.5M69.1 309.8v1.4M67.5 317.1v1.5M65.9 324.5v1.5M72.3 330.9v1.5M70.9 338.2v1.6M77.9 344.9v1.6M76.8 352.5v1.6M84.1 367.9v1.6M83.8 376.0v1.7M92.8 385.1v1.7M93.3 393.8v1.7M94.1 402.6v1.8M106.1 423.2v1.8M108.1 432.7v1.9M110.3 442.4v1.9M125.5 466.1v1.9M128.6 476.3v2M132.0 486.6v2M152.5 521.9v2.1M156.2 532.2v2.2M159.8 542.5v2.2M176.0 566.3v2.3M179.0 576.1v2.3"/><path stroke-width="3.0" stroke-opacity="0.84" d="M201.3 -1.1v0.5M201.4 5.4v0.5M208.9 9.8v0.5M208.1 16.7v0.5M206.9 23.8v0.5M205.3 30.9v0.6M210.5 36.9v0.6M208.1 44.3v0.6M205.4 51.8v0.6M209.4 58.6v0.6M206.1 66.2v0.7M13.8 128.8v0.9M22.2 129.0v0.9M30.5 128.6v0.9M202.7 73.8v0.7M12.7 137.0v0.9M21.0 136.8v0.9M29.2 136.1v0.9M37.4 134.7v0.9M45.4 132.8v0.9M206.0 80.7v0.7M11.4 144.9v1M19.6 144.5v0.9M27.7 143.4v0.9M35.8 141.7v0.9M43.7 139.4v0.9M51.6 136.7v0.9M202.4 88.3v0.8M10.1 152.7v1M18.1 151.9v1M26.1 150.4v1M34.1 148.5v0.9M41.9 146.0v0.9M49.7 143.0v0.9M57.4 139.7v0.9M198.9 95.9v0.8M8.7 160.3v1M16.6 159.1v1M24.5 157.4v1M32.3 155.1v1M40.1 152.3v1M47.7 149.2v0.9M55.3 145.8v0.9M62.8 142.1v0.9M70.3 138.3v0.9M202.1 102.6v0.8M15.1 166.2v1M22.9 164.2v1M30.6 161.6v1M38.2 158.6v1M45.7 155.3v1M53.2 151.7v1M60.6 148.0v0.9M68.0 144.2v0.9M75.3 140.4v0.9M198.8 110.1v0.8M13.6 173.1v1M21.2 170.8v1M28.8 168.0v1M58.5 153.8v1M65.7 150.0v1M72.9 146.3v0.9M80.1 142.8v0.9M195.6 117.5v0.9M12.1 179.8v1.1M19.7 177.2v1.1M27.1 174.2v1M70.7 152.3v1M77.7 148.8v1M84.7 145.7v1M192.7 124.9v0.9M18.2 183.6v1.1M25.5 180.3v1.1M75.5 155.0v1M82.5 152.0v1M89.3 149.4v1M190.1 132.4v0.9M196.8 131.4v0.9M16.8 189.8v1.1M24.1 186.4v1.1M80.3 158.5v1M87.2 156.0v1M94.0 153.9v1M187.7 139.8v0.9M194.5 138.9v0.9M22.7 192.4v1.1M85.2 162.8v1M91.9 160.8v1M98.6 159.2v1M185.7 147.2v1M192.5 146.4v0.9M21.4 198.3v1.1M28.5 194.5v1.1M96.8 166.4v1M103.4 165.2v1M110.1 164.2v1M183.9 154.7v1M190.8 153.9v1M20.3 204.2v1.2M27.3 200.4v1.1M101.8 172.6v1M108.4 171.7v1M115.1 170.9v1M175.7 163.1v1M182.5 162.2v1M26.2 206.3v1.1M113.6 178.5v1M120.3 177.7v1.1M127.0 176.9v1.1M133.7 176.2v1.1M167.6 171.5v1M174.5 170.6v1M181.4 169.8v1M25.2 212.2v1.2M32.0 208.6v1.1M119.0 185.3v1.1M125.8 184.5v1.1M132.5 183.7v1.1M139.3 182.8v1.1M146.1 181.9v1.1M152.9 180.9v1.1M159.8 179.9v1.1M166.7 178.9v1.1M173.6 178.1v1M31.0 214.6v1.2M138.3 190.3v1.1M145.2 189.3v1.1M152.1 188.3v1.1M159.0 187.3v1.1M166.0 186.4v1.1M30.1 220.7v1.2M29.3 227.0v1.2M36.0 224.0v1.2M35.1 230.5v1.2M34.2 237.1v1.3M40.9 234.9v1.2M40.0 241.7v1.3M39.0 248.7v1.3M44.7 254.4v1.3M43.6 261.7v1.3M49.1 268.1v1.3M47.8 275.6v1.4M53.4 282.4v1.4M51.8 290.0v1.4M57.4 296.7v1.4M55.7 304.2v1.5M59.8 318.2v1.5M58.1 325.6v1.6M64.3 331.9v1.6M62.8 339.3v1.6M69.6 345.7v1.6M68.4 353.1v1.7M76.0 360.2v1.7M75.3 367.9v1.7M83.8 384.3v1.7M84.2 392.6v1.8M95.2 411.6v1.8M96.7 420.7v1.9M98.6 430.0v1.9M112.9 452.2v2M115.8 462.2v2M118.9 472.2v2.1M135.5 496.9v2.1M139.1 507.2v2.2M142.8 517.6v2.2M146.5 528.0v2.3M163.2 552.6v2.3M166.5 562.7v2.4M169.5 572.7v2.4"/><path stroke-width="3.1" stroke-opacity="0.86" d="M193.2 1.8v0.5M193.4 8.1v0.5M201.1 12.0v0.5M200.4 18.8v0.5M199.3 25.6v0.6M197.8 32.5v0.6M-2.4 81.1v0.8M203.3 38.1v0.6M-2.0 90.5v0.8M7.0 92.7v0.8M15.9 94.5v0.8M200.9 45.4v0.6M-2.0 99.8v0.8M7.0 101.8v0.8M15.8 103.3v0.8M24.6 104.4v0.8M33.3 105.0v0.8M198.3 52.7v0.7M-2.2 108.9v0.8M6.6 110.7v0.8M15.4 112.0v0.9M24.0 112.8v0.9M32.6 113.0v0.9M41.1 112.6v0.9M195.4 60.2v0.7M202.4 59.3v0.7M-2.6 117.9v0.9M6.0 119.5v0.9M14.7 120.5v0.9M23.2 121.0v0.9M31.7 120.9v0.9M40.1 120.2v0.9M48.4 118.9v0.9M56.6 117.0v0.9M199.2 66.9v0.7M-3.3 126.9v0.9M5.2 128.1v0.9M38.8 127.5v0.9M47.0 125.9v0.9M55.1 123.7v0.9M63.2 121.1v0.9M195.9 74.5v0.7M4.3 136.6v0.9M53.4 130.3v0.9M61.4 127.4v0.9M69.2 124.2v0.9M192.4 82.1v0.8M199.2 81.4v0.7M3.1 144.9v1M59.4 133.6v0.9M67.2 130.2v0.9M74.8 126.5v0.9M195.7 89.0v0.8M1.9 153.0v1M65.0 136.2v0.9M72.6 132.4v0.9M80.0 128.6v0.9M192.2 96.6v0.8M0.6 160.9v1M77.6 134.5v0.9M85.0 130.7v0.9M188.7 104.2v0.8M195.4 103.4v0.8M-0.7 168.6v1.1M7.2 167.7v1M82.5 136.7v0.9M89.6 133.2v0.9M185.4 111.7v0.9M192.1 111.0v0.8M-2.0 176.2v1.1M5.8 174.9v1.1M87.1 139.4v0.9M94.2 136.4v0.9M182.3 119.3v0.9M188.9 118.4v0.9M4.5 182.0v1.1M91.7 142.8v1M98.6 140.3v1M105.5 138.1v1M179.4 126.8v0.9M186.0 125.9v0.9M3.2 188.8v1.1M10.7 186.4v1.1M96.2 147.0v1M103.0 145.0v1M109.8 143.3v1M176.7 134.3v1M183.4 133.4v0.9M9.4 192.9v1.1M100.7 152.1v1M107.5 150.5v1M114.2 149.3v1M174.3 141.7v1M181.0 140.8v1M8.2 199.2v1.2M15.5 195.9v1.1M105.4 157.8v1M112.0 156.7v1M118.7 155.7v1M125.4 154.9v1M172.2 149.2v1M178.9 148.2v1M14.3 201.9v1.2M116.8 163.3v1M123.4 162.5v1M130.1 161.8v1M136.8 161.0v1M143.5 160.3v1M156.9 158.6v1M163.6 157.6v1M170.3 156.6v1M177.1 155.7v1M13.2 207.9v1.2M121.7 170.1v1M128.4 169.3v1.1M135.1 168.6v1.1M141.8 167.8v1.1M148.5 166.9v1.1M155.3 166.0v1.1M162.0 165.1v1M168.8 164.1v1M12.3 213.8v1.2M19.2 210.1v1.2M140.4 175.3v1.1M147.2 174.4v1.1M153.9 173.4v1.1M160.8 172.5v1.1M18.3 215.9v1.2M17.4 221.8v1.3M24.2 218.1v1.2M23.4 224.1v1.2M22.6 230.2v1.3M28.4 233.2v1.3M27.6 239.7v1.3M33.3 243.8v1.3M32.3 250.6v1.4M38.0 255.8v1.3M36.8 263.0v1.4M42.3 269.1v1.4M40.9 276.5v1.4M46.3 283.2v1.4M44.7 290.7v1.5M50.2 297.5v1.5M48.4 305.1v1.5M54.0 311.7v1.5M52.2 319.1v1.6M56.4 332.9v1.6M61.3 346.6v1.7M67.4 360.7v1.7M66.6 368.3v1.8M74.9 375.8v1.8M74.8 383.8v1.8M84.8 401.1v1.9M85.9 409.8v1.9M87.3 418.6v2M100.8 439.4v2M103.3 449.0v2M106.1 458.7v2.1M122.3 482.4v2.1M125.8 492.6v2.2M129.4 503.0v2.2M133.1 513.3v2.3M150.1 538.3v2.3M153.6 548.6v2.4M156.9 558.9v2.4"/><path stroke-width="3.2" stroke-opacity="0.88" d="M184.3 -1.0v0.5M185.0 5.1v0.5M185.4 11.2v0.5M193.3 14.6v0.5M192.7 21.1v0.6M5.0 64.8v0.7M191.7 27.7v0.6M-3.2 71.7v0.7M6.0 74.2v0.7M15.2 76.4v0.8M24.2 78.3v0.8M190.3 34.5v0.6M6.7 83.5v0.8M15.7 85.5v0.8M24.7 87.2v0.8M33.6 88.3v0.8M188.5 41.4v0.6M195.9 39.6v0.6M24.8 95.9v0.8M33.6 96.7v0.8M42.3 97.0v0.8M51.0 96.7v0.8M193.7 46.7v0.6M41.9 104.9v0.9M50.4 104.3v0.9M58.9 103.0v0.9M191.1 53.9v0.7M49.5 111.7v0.9M57.9 110.1v0.9M66.2 108.0v0.9M188.3 61.3v0.7M64.8 114.6v0.9M72.9 111.8v0.9M185.3 68.7v0.7M192.3 67.7v0.7M71.1 118.0v0.9M79.0 114.6v0.9M86.8 111.0v0.9M189.0 75.2v0.8M77.0 120.6v0.9M84.7 116.9v0.9M92.3 113.1v0.9M185.6 82.8v0.8M82.4 122.7v0.9M89.9 118.9v0.9M97.4 115.2v0.9M182.2 90.4v0.8M188.9 89.7v0.8M87.5 124.8v0.9M94.8 121.1v0.9M102.1 117.6v0.9M178.7 98.0v0.8M185.5 97.3v0.8M92.2 127.1v0.9M99.4 123.8v0.9M106.5 120.7v0.9M175.3 105.6v0.9M182.0 104.9v0.9M96.7 130.0v0.9M103.8 127.1v0.9M110.8 124.5v0.9M172.1 113.2v0.9M178.8 112.5v0.9M101.1 133.6v1M108.1 131.2v1M115.0 129.2v1M169.0 120.9v0.9M175.6 120.1v0.9M-3.2 183.6v1.1M112.3 136.2v1M119.1 134.6v1M125.9 133.4v1M166.0 128.4v1M172.7 127.7v0.9M116.5 141.9v1M123.3 140.8v1M130.0 139.8v1M136.7 139.0v1M143.3 138.2v1M150.0 137.5v1M156.7 136.8v1M163.3 136.0v1M170.0 135.2v1M2.0 195.5v1.2M120.9 148.2v1M127.6 147.3v1M134.2 146.6v1M140.9 145.8v1M147.6 145.1v1M154.2 144.3v1M160.9 143.5v1M167.6 142.7v1M0.9 202.1v1.2M132.1 154.2v1M138.7 153.4v1M145.4 152.7v1M152.1 151.9v1M158.7 151.1v1M165.4 150.1v1M-0.1 208.4v1.3M7.1 205.4v1.2M150.1 159.5v1M6.2 211.5v1.2M5.3 217.5v1.3M11.4 219.7v1.3M10.6 225.6v1.3M16.6 227.7v1.3M15.9 233.7v1.3M21.8 236.3v1.3M20.9 242.5v1.4M26.7 246.2v1.4M25.7 252.8v1.4M31.2 257.5v1.4M30.0 264.5v1.4M35.5 270.3v1.4M34.0 277.6v1.5M39.3 284.0v1.5M37.6 291.5v1.5M42.9 298.3v1.5M41.1 305.8v1.6M46.5 312.6v1.6M44.6 320.1v1.6M50.3 326.6v1.6M48.5 334.0v1.7M54.7 340.3v1.7M53.1 347.7v1.7M60.0 354.0v1.7M58.9 361.5v1.8M66.1 376.0v1.8M65.9 383.8v1.9M75.1 391.9v1.9M75.7 400.2v1.9M76.6 408.6v2M89.1 427.7v2M91.2 436.8v2.1M109.2 468.5v2.2M112.6 478.5v2.2M116.0 488.6v2.3M136.8 523.6v2.4M140.4 534.0v2.4M143.9 544.3v2.5M147.3 554.7v2.5M160.0 569.0v2.5M162.8 579.1v2.5"/><path stroke-width="3.3" stroke-opacity="0.90" d="M174.7 -3.3v0.5M175.9 2.6v0.5M176.8 8.6v0.5M177.3 14.5v0.6M1.9 45.9v0.7M177.4 20.6v0.6M185.4 17.4v0.6M3.6 55.4v0.7M13.0 57.9v0.7M184.9 23.8v0.6M14.3 67.3v0.7M23.4 69.3v0.8M32.5 71.0v0.8M184.0 30.2v0.6M33.3 79.7v0.8M42.2 80.7v0.8M182.7 36.8v0.6M42.5 88.9v0.8M51.2 89.0v0.8M59.9 88.4v0.8M181.1 43.5v0.7M59.6 95.8v0.9M68.1 94.3v0.9M179.0 50.2v0.7M186.4 48.3v0.7M67.3 101.3v0.9M75.6 98.9v0.9M176.6 57.1v0.7M183.9 55.4v0.7M74.4 105.4v0.9M82.5 102.4v0.9M90.5 99.0v0.9M174.0 64.2v0.7M181.2 62.6v0.7M80.9 108.6v0.9M88.8 105.0v0.9M96.6 101.3v0.9M178.2 69.8v0.8M94.5 107.2v0.9M102.2 103.4v0.9M175.1 77.1v0.8M182.1 76.1v0.8M99.8 109.2v0.9M107.3 105.5v0.9M171.8 84.6v0.8M178.7 83.6v0.8M104.7 111.5v0.9M112.0 108.1v0.9M119.3 105.0v0.9M168.5 92.0v0.8M175.3 91.2v0.8M109.3 114.4v0.9M116.5 111.4v0.9M123.6 108.8v0.9M158.3 100.5v0.9M165.2 99.5v0.9M171.9 98.7v0.9M113.6 117.9v0.9M120.6 115.5v0.9M127.6 113.4v0.9M134.5 111.6v0.9M141.4 110.2v0.9M148.3 108.9v0.9M155.1 107.9v0.9M161.9 107.1v0.9M168.6 106.3v0.9M117.8 122.3v0.9M124.7 120.4v0.9M131.5 118.8v0.9M138.4 117.5v0.9M145.1 116.4v0.9M151.9 115.5v0.9M158.7 114.7v0.9M165.4 114.0v0.9M121.8 127.4v1M128.6 126.0v1M135.4 124.8v1M142.2 123.8v1M148.9 123.0v1M155.6 122.3v0.9M162.3 121.6v0.9M132.6 132.3v1M139.3 131.4v1M146.0 130.6v1M152.7 129.9v1M159.4 129.1v1M-1.0 214.7v1.3M-1.8 220.9v1.3M4.5 223.4v1.3M3.7 229.3v1.4M9.9 231.4v1.3M9.1 237.3v1.4M15.1 239.7v1.4M14.2 245.8v1.4M20.0 248.9v1.4M19.0 255.3v1.5M24.5 259.5v1.4M23.3 266.3v1.5M28.7 271.6v1.5M27.1 278.8v1.5M32.4 285.0v1.5M30.6 292.4v1.6M35.8 299.0v1.6M33.8 306.6v1.7M39.1 313.3v1.7M37.1 320.9v1.7M42.6 327.5v1.7M40.7 334.9v1.8M46.7 341.3v1.8M45.0 348.7v1.8M51.7 355.0v1.8M50.5 362.4v1.9M58.0 368.9v1.9M57.4 376.5v1.9M66.1 391.7v2M66.6 399.7v2M78.0 417.2v2M79.7 425.9v2.1M93.7 446.1v2.1M96.5 455.6v2.2M99.6 465.2v2.2M102.9 475.0v2.3M119.7 498.8v2.3M123.4 509.0v2.4M127.1 519.3v2.4M130.7 529.7v2.5M134.3 540.1v2.5M150.4 565.0v2.6M153.3 575.2v2.6"/><path stroke-width="3.4" stroke-opacity="0.92" d="M166.1 0.5v0.5M167.5 6.4v0.5M-2.6 26.8v0.6M168.5 12.2v0.6M-0.2 36.4v0.6M9.3 39.1v0.7M169.1 18.1v0.6M11.3 48.5v0.7M20.6 51.0v0.7M169.3 24.1v0.6M22.2 60.2v0.7M31.4 62.1v0.7M40.6 63.6v0.8M169.1 30.2v0.6M177.0 26.8v0.6M41.6 72.2v0.8M50.6 72.9v0.8M168.4 36.2v0.7M176.3 33.1v0.6M51.1 81.0v0.8M59.9 80.8v0.8M68.6 80.0v0.8M167.4 42.4v0.7M175.1 39.4v0.7M68.5 87.3v0.8M77.1 85.5v0.8M165.9 48.7v0.7M173.5 45.9v0.7M76.5 92.3v0.9M84.9 89.8v0.9M93.1 86.8v0.9M164.1 55.1v0.7M171.6 52.5v0.7M83.8 96.1v0.9M92.0 93.0v0.9M100.1 89.5v0.9M161.9 61.6v0.8M169.3 59.2v0.7M98.5 95.4v0.9M106.4 91.6v0.9M114.2 87.8v0.9M159.4 68.2v0.8M166.8 66.0v0.8M104.4 97.5v0.9M112.1 93.7v0.9M119.7 89.9v0.9M127.2 86.4v0.9M134.7 83.1v0.8M149.5 77.3v0.8M156.8 75.0v0.8M164.0 72.9v0.8M171.1 71.2v0.8M109.8 99.6v0.9M117.3 95.9v0.9M124.7 92.5v0.9M132.1 89.3v0.9M139.4 86.5v0.9M146.7 84.0v0.8M153.9 81.8v0.8M161.0 80.0v0.8M168.1 78.4v0.8M114.7 102.0v0.9M122.1 98.7v0.9M129.4 95.7v0.9M136.6 93.0v0.9M143.7 90.7v0.9M150.8 88.7v0.9M157.9 87.1v0.8M164.9 85.7v0.8M126.5 102.2v0.9M133.6 99.7v0.9M140.7 97.6v0.9M147.7 95.8v0.9M154.7 94.3v0.9M161.6 93.0v0.9M130.6 106.5v0.9M137.6 104.6v0.9M144.6 102.9v0.9M151.5 101.6v0.9M-2.5 227.0v1.4M-3.2 233.0v1.4M3.0 235.2v1.4M2.3 241.0v1.5M8.4 243.2v1.4M7.5 249.2v1.5M13.3 251.9v1.5M12.3 258.2v1.5M17.9 261.8v1.5M16.6 268.5v1.6M21.9 273.2v1.6M20.3 280.3v1.6M25.5 286.1v1.6M28.7 299.8v1.7M31.8 314.1v1.7M35.0 328.4v1.8M38.8 342.4v1.8M43.5 356.0v1.9M49.5 369.8v1.9M57.1 384.1v2M57.2 391.8v2M67.5 407.8v2.1M68.7 416.1v2.1M81.8 434.7v2.2M84.2 443.8v2.2M86.9 452.9v2.3M89.9 462.3v2.3M106.3 484.9v2.3M109.9 494.8v2.4M113.6 504.9v2.5M117.3 515.1v2.5M121.0 525.4v2.6M137.7 550.4v2.6M140.8 560.7v2.7M143.8 571.1v2.7M-1.2 566.9v2.7M0.7 574.8v2.7M10.5 575.0v2.7M20.2 575.5v2.8"/><path stroke-width="3.5" stroke-opacity="0.94" d="M144.6 -3.8v0.5M146.9 2.2v0.5M155.7 -1.5v0.5M157.5 4.4v0.5M159.0 10.2v0.6M6.9 29.6v0.6M16.4 32.2v0.7M160.1 16.0v0.6M18.7 41.6v0.7M28.0 43.9v0.7M160.9 21.9v0.6M29.9 53.1v0.7M39.1 54.8v0.7M48.3 56.1v0.8M152.9 31.5v0.7M161.2 27.8v0.6M49.6 64.6v0.8M58.6 65.0v0.8M152.9 37.4v0.7M161.1 33.7v0.7M59.5 73.0v0.8M68.3 72.5v0.8M77.1 71.4v0.8M152.5 43.3v0.7M160.5 39.7v0.7M77.3 78.6v0.8M85.8 76.6v0.8M94.4 74.1v0.8M151.7 49.3v0.7M159.6 45.7v0.7M85.5 83.3v0.8M93.9 80.5v0.8M102.2 77.4v0.8M110.5 73.9v0.8M118.6 70.3v0.8M134.7 62.6v0.8M142.6 58.8v0.8M150.4 55.3v0.7M158.2 51.9v0.7M101.3 83.5v0.8M109.4 79.9v0.8M117.5 76.1v0.8M125.4 72.3v0.8M133.3 68.5v0.8M141.1 64.8v0.8M148.8 61.3v0.8M156.5 58.1v0.7M108.0 85.8v0.9M116.0 82.0v0.8M123.8 78.2v0.8M131.6 74.4v0.8M139.3 70.8v0.8M146.9 67.5v0.8M154.4 64.4v0.8M121.9 84.1v0.8M129.5 80.4v0.8M137.1 76.9v0.8M144.6 73.7v0.8M152.1 70.8v0.8M142.1 80.1v0.8M-3.8 238.9v1.5M1.6 246.9v1.5M6.7 255.2v1.5M11.2 264.5v1.6M15.2 275.2v1.6M18.6 287.4v1.7M23.6 293.4v1.7M21.6 300.8v1.7M26.6 307.4v1.7M24.5 314.9v1.8M29.6 321.7v1.8M27.5 329.2v1.8M33.0 335.9v1.8M31.0 343.3v1.9M37.0 349.7v1.9M35.3 357.1v2M42.1 363.4v1.9M41.0 370.8v2M48.8 377.2v2M48.4 384.7v2.1M57.6 399.6v2.1M58.3 407.5v2.2M70.3 424.6v2.2M72.3 433.2v2.2M74.7 441.9v2.3M93.2 471.8v2.4M96.6 481.5v2.4M100.2 491.2v2.5M103.9 501.2v2.5M107.6 511.2v2.6M124.6 535.7v2.6M128.0 546.1v2.7M131.2 556.5v2.7M134.2 566.8v2.8M136.9 577.2v2.8M-3.4 559.2v2.7M6.3 558.8v2.8M8.5 566.9v2.7M18.2 567.2v2.8M28.0 568.0v2.8M29.9 576.6v2.8M39.6 578.2v2.8"/><path stroke-width="3.6" stroke-opacity="0.96" d="M135.6 -0.5v0.5M138.0 5.6v0.6M1.2 10.4v0.6M140.1 11.7v0.6M148.8 8.1v0.6M4.2 20.0v0.6M13.7 22.8v0.6M141.8 17.7v0.6M150.4 14.0v0.6M25.8 34.7v0.7M35.2 36.8v0.7M143.1 23.7v0.6M151.7 19.9v0.6M37.4 45.9v0.7M46.6 47.4v0.7M144.1 29.5v0.7M152.5 25.7v0.6M57.4 56.8v0.8M66.5 57.0v0.8M136.3 39.2v0.7M144.6 35.4v0.7M67.6 64.8v0.8M76.5 64.1v0.8M85.3 62.8v0.8M94.0 60.9v0.8M128.1 48.8v0.7M136.5 45.1v0.7M144.8 41.2v0.7M85.8 69.8v0.8M94.4 67.6v0.8M102.9 64.9v0.8M111.4 61.8v0.8M119.8 58.4v0.8M128.1 54.7v0.8M136.3 50.9v0.7M144.5 47.1v0.7M102.8 71.2v0.8M111.1 67.9v0.8M119.4 64.3v0.8M127.6 60.6v0.8M135.7 56.8v0.8M143.7 53.0v0.7M126.7 66.4v0.8M0.8 252.8v1.6M-0.0 258.7v1.6M5.7 261.3v1.6M4.5 267.5v1.6M9.9 271.0v1.6M8.4 277.5v1.7M13.6 282.1v1.7M11.8 289.0v1.7M16.7 294.6v1.7M14.7 301.9v1.8M19.5 308.2v1.8M22.3 322.4v1.9M25.3 336.7v1.9M29.0 350.7v2M33.9 364.5v2M40.2 378.1v2.1M48.3 392.3v2.1M48.6 399.9v2.2M59.5 415.6v2.2M61.0 423.7v2.3M63.0 432.1v2.3M77.4 450.8v2.4M80.3 459.9v2.4M83.5 469.1v2.5M86.9 478.5v2.5M90.5 488.0v2.6M111.3 521.3v2.6M114.9 531.5v2.7M118.3 541.8v2.7M121.5 552.1v2.8M124.6 562.5v2.8M117.7 568.6v2.9M127.3 572.9v2.9M3.9 551.0v2.8M13.6 550.8v2.8M120.2 579.0v2.9M16.0 558.9v2.8M25.8 559.5v2.8M37.7 569.3v2.8M47.4 571.1v2.9M57.1 573.4v2.9M49.3 580.3v2.8"/><path stroke-width="3.7" stroke-opacity="0.98" d="M123.9 -4.3v0.6M126.6 2.3v0.6M-2.0 0.9v0.6M129.1 8.7v0.6M10.8 13.3v0.6M20.4 15.9v0.6M131.2 15.0v0.6M23.2 25.3v0.7M32.7 27.7v0.7M42.1 29.7v0.7M124.3 24.3v0.7M133.1 21.2v0.6M44.5 38.6v0.7M53.8 40.0v0.7M63.0 40.8v0.7M125.8 30.6v0.7M134.5 27.2v0.7M55.8 48.5v0.7M65.0 49.0v0.8M74.0 48.9v0.8M83.0 48.2v0.8M92.0 46.9v0.8M100.8 45.1v0.8M109.6 42.8v0.7M118.4 40.0v0.7M127.0 36.8v0.7M135.6 33.3v0.7M75.4 56.6v0.8M84.4 55.6v0.8M93.2 54.0v0.8M102.0 51.9v0.8M110.6 49.2v0.8M119.3 46.2v0.7M127.8 42.8v0.7M102.6 58.4v0.8M111.2 55.6v0.8M119.7 52.3v0.8M-1.0 264.7v1.7M-2.1 270.7v1.7M3.2 273.7v1.7M6.8 284.2v1.7M9.8 296.1v1.8M12.5 309.2v1.9M17.3 315.7v1.9M15.0 323.2v1.9M20.0 330.0v1.9M17.7 337.5v2M23.2 344.2v2M21.2 351.6v2.1M27.3 358.2v2M25.7 365.5v2.1M32.7 371.8v2.1M31.7 379.1v2.2M39.7 385.6v2.1M39.5 393.0v2.2M49.3 407.6v2.2M50.3 415.5v2.3M51.8 423.4v2.4M65.2 440.5v2.4M67.8 449.2v2.4M70.7 457.9v2.5M73.9 466.9v2.5M77.3 476.0v2.6M94.2 497.7v2.6M97.9 507.5v2.7M101.5 517.5v2.7M105.1 527.6v2.7M98.9 533.9v2.8M108.6 537.7v2.8M102.2 543.9v2.9M111.9 547.9v2.8M-1.6 535.5v2.8M105.2 554.1v2.9M114.9 558.2v2.9M1.2 543.2v2.8M10.9 542.9v2.8M108.1 564.4v2.9M23.3 551.1v2.8M33.1 551.8v2.9M42.8 553.1v2.9M101.0 570.5v3M110.6 574.6v3M35.5 560.5v2.9M45.2 562.0v2.9M55.0 564.0v2.9M64.7 566.6v2.9M74.3 569.5v3M84.0 573.0v3M93.6 576.8v3M66.8 576.2v2.9M76.4 579.5v2.9"/><path stroke-width="3.8" stroke-opacity="1.00" d="M114.7 -2.1v0.6M108.3 6.7v0.6M117.5 4.8v0.6M7.6 3.7v0.6M17.2 6.5v0.6M26.8 9.1v0.6M111.0 13.7v0.6M120.1 11.5v0.6M29.9 18.4v0.6M39.4 20.6v0.7M48.8 22.4v0.7M104.3 22.5v0.7M113.4 20.5v0.7M122.3 18.0v0.6M51.5 31.3v0.7M60.8 32.4v0.7M70.0 33.0v0.7M79.2 33.0v0.7M88.4 32.4v0.7M97.5 31.2v0.7M106.5 29.4v0.7M115.4 27.1v0.7M72.2 41.0v0.7M81.3 40.7v0.7M90.4 39.8v0.7M99.3 38.3v0.7M108.2 36.2v0.7M117.1 33.6v0.7M-3.4 276.8v1.8M1.8 280.1v1.8M0.1 286.6v1.8M5.0 290.9v1.8M3.0 297.8v1.9M7.7 303.2v1.9M5.4 310.4v1.9M10.1 316.6v1.9M12.6 330.7v2M15.5 345.0v2.1M19.3 359.1v2.1M24.4 372.9v2.2M31.1 386.5v2.2M30.8 393.9v2.3M39.7 400.5v2.3M40.3 408.1v2.3M41.2 415.7v2.4M53.6 431.5v2.4M55.8 439.7v2.5M58.4 448.0v2.5M61.2 456.5v2.6M80.8 485.3v2.6M84.4 494.7v2.7M88.1 504.3v2.7M82.1 511.0v2.8M91.8 514.0v2.8M85.7 520.6v2.8M95.4 523.9v2.8M89.1 530.3v2.9M92.5 540.2v2.9M8.0 535.0v2.9M17.7 534.8v2.9M85.8 546.7v2.9M95.6 550.2v2.9M20.6 542.9v2.9M30.4 543.4v2.9M40.1 544.3v2.9M49.9 545.8v2.9M59.6 547.8v2.9M69.3 550.2v3M79.0 553.2v3M88.7 556.6v3M98.4 560.4v2.9M52.5 554.8v2.9M62.3 557.1v2.9M72.0 559.8v3M81.7 563.0v3M91.3 566.6v3"/><path stroke-width="3.9" stroke-opacity="1.00" d="M96.1 0.6v0.6M105.4 -0.5v0.6M13.9 -3.1v0.6M23.5 -0.4v0.6M33.1 2.1v0.6M89.8 8.9v0.6M99.1 8.1v0.6M36.3 11.4v0.6M45.8 13.5v0.6M55.3 15.1v0.7M64.7 16.3v0.7M74.1 16.9v0.7M83.4 17.0v0.7M92.7 16.5v0.7M101.8 15.4v0.6M58.2 23.8v0.7M67.5 24.7v0.7M76.8 25.0v0.7M86.0 24.8v0.7M95.2 23.9v0.7M-1.8 293.1v1.9M0.8 304.8v1.9M3.0 317.7v2M7.7 324.1v2M5.3 331.5v2.1M10.2 338.3v2.1M7.9 345.8v2.1M13.4 352.6v2.1M11.4 360.0v2.2M17.6 366.5v2.2M16.1 373.9v2.3M23.3 380.2v2.2M22.5 387.6v2.3M30.9 401.3v2.3M31.3 408.7v2.4M42.6 423.5v2.4M44.3 431.3v2.5M46.5 439.3v2.5M48.9 447.4v2.6M64.3 465.2v2.6M67.6 474.1v2.6M71.1 483.0v2.7M74.7 492.2v2.7M68.7 499.2v2.8M78.4 501.5v2.8M72.3 508.4v2.8M75.9 517.7v2.9M1.8 519.6v2.9M69.7 524.6v2.9M79.4 527.2v2.9M5.0 527.3v2.9M14.7 526.9v2.9M24.4 526.9v2.9M34.1 527.3v2.9M43.8 528.2v2.9M53.5 529.6v2.9M63.3 531.6v2.9M73.0 534.0v2.9M82.7 536.9v2.9M27.5 535.1v2.9M37.2 535.8v2.9M46.9 537.0v2.9M56.7 538.6v2.9M66.4 540.8v3M76.1 543.5v2.9"/><path stroke-width="4.0" stroke-opacity="1.00" d="M48.9 -2.7v0.6M58.4 -1.1v0.6M67.9 0.2v0.6M77.4 0.9v0.6M86.8 1.0v0.6M42.7 4.4v0.6M52.2 6.3v0.6M61.7 7.7v0.6M71.1 8.7v0.6M80.5 9.1v0.6M-3.8 299.9v1.9M-1.5 311.8v2M-4.0 319.0v2.1M0.6 325.0v2.1M2.8 339.1v2.1M5.7 353.3v2.2M9.6 367.5v2.3M15.0 381.3v2.3M14.1 388.6v2.4M22.1 394.9v2.4M22.1 402.3v2.4M32.2 416.2v2.5M33.5 423.9v2.5M35.1 431.5v2.6M37.2 439.3v2.6M51.7 455.6v2.6M54.8 464.0v2.7M58.0 472.6v2.7M51.9 480.0v2.8M61.5 481.3v2.7M55.4 488.6v2.8M65.1 490.1v2.8M59.0 497.3v2.9M52.9 504.7v2.9M62.6 506.3v2.9M-1.5 512.1v2.9M8.1 511.4v2.9M17.7 511.0v2.9M37.1 511.3v2.9M46.8 512.2v2.9M56.5 513.5v2.9M66.2 515.3v2.9M11.4 519.1v2.9M21.1 518.9v2.9M30.8 519.1v2.9M40.5 519.7v2.9M50.2 520.8v2.9M59.9 522.4v2.9"/><path stroke-width="4.1" stroke-opacity="1.00" d="M-2.0 332.5v2.1M0.4 346.6v2.2M-2.0 354.1v2.3M3.6 360.8v2.3M1.6 368.4v2.3M8.0 374.9v2.3M6.7 382.3v2.4M13.6 396.0v2.4M13.4 403.3v2.5M22.5 409.6v2.5M23.2 417.1v2.5M24.4 424.5v2.6M26.0 432.1v2.6M39.5 447.2v2.7M42.3 455.2v2.7M35.8 463.1v2.8M45.2 463.3v2.7M38.9 471.1v2.8M48.5 471.6v2.8M42.3 479.3v2.9M36.2 487.1v2.9M45.8 487.6v2.9M30.1 494.9v2.9M39.7 495.3v2.9M49.3 496.1v2.9M4.7 503.7v3M14.3 503.1v3M23.9 502.9v3M33.6 503.1v2.9M43.2 503.6v2.9M27.4 510.9v3"/><path stroke-width="4.2" stroke-opacity="1.00" d="M-0.1 375.8v2.4M-1.5 383.3v2.5M5.7 389.7v2.5M5.1 397.1v2.5M4.8 404.4v2.6M13.7 410.6v2.6M14.3 418.0v2.6M15.4 425.4v2.7M16.9 432.8v2.7M18.7 440.3v2.8M27.9 439.7v2.7M20.9 447.9v2.8M30.2 447.4v2.7M23.5 455.5v2.8M32.8 455.1v2.8M26.3 463.2v2.8M29.4 471.0v2.9M23.2 479.1v2.9M32.7 479.0v2.9M-1.9 488.6v3M7.5 487.8v3M17.0 487.2v3M26.6 487.0v2.9M1.4 496.1v3M10.9 495.4v3M20.5 495.0v3"/><path stroke-width="4.3" stroke-opacity="1.00" d="M-2.6 390.7v2.5M-3.3 398.1v2.6M-3.7 405.5v2.6M5.0 411.7v2.6M5.5 419.1v2.7M6.5 426.4v2.7M7.8 433.8v2.8M9.6 441.2v2.8M11.7 448.6v2.8M14.2 456.1v2.9M7.6 464.5v2.9M17.0 463.7v2.9M1.2 472.8v3M10.6 472.0v2.9M20.0 471.4v2.9M4.3 480.3v3M13.7 479.5v3"/><path stroke-width="4.4" stroke-opacity="1.00" d="M-3.7 412.8v2.7M-3.2 420.2v2.7M-2.4 427.5v2.8M-1.1 434.9v2.8M0.5 442.2v2.9M2.6 449.6v2.9M4.9 457.0v2.9M-1.6 465.4v3"/></g></svg>
<svg class="g" width="1024" height="576" viewBox="0 0 1024 576">
<defs>
<linearGradient id="side" x1="0" x2="1" y1="0" y2="0">
<stop offset="0" stop-color="#14803a"/><stop offset=".35" stop-color="#3aa63a"/><stop offset=".655" stop-color="#8ccb38"/><stop offset=".8" stop-color="#3aa63a"/><stop offset="1" stop-color="#0f6e35"/>
</linearGradient>
</defs>
<!-- pie -->
<path d="M43.4 251.5 v16.6 a88.5 51 0 0 0 177 0 v-16.6 z" fill="url(#side)"/>
<ellipse cx="131.9" cy="251.5" rx="88.5" ry="51" fill="#3cb44a"/>
<path d="M134.6 249.1 L180.1 210.2 L192.9 215.7 L189.9 218.3 L188 218.7 Z" fill="#1f3347"/>
<path d="M179.7 215.6 L187.6 218.6 L151 240.4 Z" fill="#c9ccd6"/>
<!-- podium -->
<ellipse cx="816" cy="340.3" rx="144" ry="8.3" fill="#b4b3b3"/>
<rect x="693" y="262" width="82.5" height="69" fill="#4ecb9a"/>
<rect x="772.6" y="263.9" width="3" height="67" fill="#35b286"/>
<rect x="691.2" y="252.4" width="84.3" height="11.5" rx="1.5" fill="#2aa878"/><path d="M693.5 252.4H775.5V258H691.2V254.500Q691.2 252.4 693.5 252.4Z" fill="#35b587"/>
<rect x="858.5" y="280" width="82.4" height="51" fill="#4ecb9a"/>
<rect x="858.5" y="281.8" width="3" height="49" fill="#3fbc8c"/>
<rect x="858.5" y="270.2" width="84.1" height="11.6" rx="1.5" fill="#2aa878"/><path d="M858.5 270.2H935L942.600 274.500V276.500H858.5Z" fill="#35b587"/>
<rect x="693" y="330.3" width="248" height="5" fill="#2eab7c"/>
<rect x="689.8" y="334.8" width="254.2" height="4.1" fill="#0b8352"/>
<rect x="775.5" y="230" width="83" height="100.5" fill="#6fe5af"/>
<rect x="775.5" y="330.3" width="83" height="4.5" fill="#3cba89"/>
<path d="M779 217 H856.500 Q858 217 858.500 218.500 L861 230 Q861 231.700 859.500 231.700 H775.500 Q774 231.700 774 230 L776.800 218.500 Q777.300 217 779 217Z" fill="#2cab7c"/>
<path d="M779 217 H856.500 Q858 217 858.500 218.500 L860 226 H775 L776.800 218.500 Q777.300 217 779 217Z" fill="#31b082"/>
<!-- trophy -->
<ellipse cx="819.2" cy="220.6" rx="15.5" ry="2.4" fill="#1a8560"/>
<path d="M810 189.5L805 185.9C801.8 183.2 790.4 174.7 785.8 169.6C781.2 164.5 779.1 159.4 777.2 155.3C775.4 151.2 774.5 148.0 774.7 144.8C774.9 141.6 776.5 138.1 778.2 136.2C779.9 134.3 782.8 133.2 784.9 133.4C787.0 133.6 789.4 135.6 790.6 137.2C791.8 138.8 792.1 141.2 791.9 142.9C791.7 144.6 790.1 146.2 789.3 147.1C788.4 148.0 787.2 147.9 786.8 148.1" fill="none" stroke="#e2b346" stroke-width="3.4" stroke-linecap="round"/>
<path d="M828.4 189.5L833.4 185.9C836.6 183.2 848.0 174.7 852.6 169.6C857.2 164.5 859.4 159.4 861.2 155.3C863.1 151.2 863.9 148.0 863.7 144.8C863.5 141.6 861.9 138.1 860.2 136.2C858.5 134.3 855.6 133.2 853.5 133.4C851.4 133.6 849.0 135.6 847.8 137.2C846.6 138.8 846.3 141.2 846.5 142.9C846.7 144.6 848.2 146.2 849.1 147.1C850.0 148.0 851.2 147.9 851.6 148.1" fill="none" stroke="#e2b346" stroke-width="3.4" stroke-linecap="round"/>
<rect x="806.4" y="208.8" width="25.6" height="10.2" fill="#4d4d4d"/>
<rect x="812.6" y="211.3" width="13.3" height="6.1" fill="#f5a623"/>
<path d="M817 196 L821.4 196 L827.2 208.9 H811.2 Z" fill="#f5a623"/>
<path d="M794.4 136.8C794.6 138.8 794.9 144.4 795.4 148.6C795.9 152.8 796.3 157.5 797.3 162C798.2 166.5 799.7 171.6 801.1 175.4C802.5 179.2 804.1 182.2 805.9 184.9C807.6 187.6 809.7 189.7 811.6 191.6C813.5 193.5 816.3 195.6 817.3 196.4L821.1 196.4C822.0 195.6 824.9 193.5 826.8 191.6C828.7 189.7 830.8 187.6 832.5 184.9C834.2 182.2 835.9 179.2 837.3 175.4C838.7 171.6 840.1 166.5 841.1 162C842.1 157.5 842.5 152.8 843.0 148.6C843.5 144.4 843.8 138.8 844.0 136.8Z" fill="#f5a623"/>
<ellipse cx="819.2" cy="136.8" rx="24.8" ry="2.6" fill="#d9931b"/>
<path d="M807.8 145.5 Q808.5 162 813.5 177.3" fill="none" stroke="#f9c662" stroke-width="1.7" stroke-linecap="round"/>
<path d="M812.4 145.5 Q813 161 816.4 175" fill="none" stroke="#f9c662" stroke-width="0.9" stroke-linecap="round"/>
<!-- pills -->
<rect x="675.600" y="382" width="285" height="43.600" rx="21.800" fill="#8cc540"/>
<rect x="675.600" y="431" width="224.400" height="43.300" rx="21.600" fill="#3bb44a"/>
<rect x="675.600" y="479.400" width="225.400" height="43.600" rx="21.800" fill="#0c9345"/>
</svg>
<div class="t" style="left:130.36px;top:28.51px;font-size:75px;font-weight:bold;color:#0d9648;transform:scale(0.9752,1.0551);-webkit-text-stroke:1px #0d9648;">¿</div>
<div class="t" style="left:173.89px;top:41.67px;font-size:75px;font-weight:bold;color:#0d9648;transform:scale(1.0540,1.0266);-webkit-text-stroke:1px #0d9648;">DE</div>
<div class="t" style="left:307.44px;top:40.62px;font-size:75px;font-weight:bold;color:#0d9648;transform:scale(1.0965,1.0448);-webkit-text-stroke:1px #0d9648;">DONDE</div>
<div class="t" style="left:177.77px;top:128.01px;font-size:36px;font-weight:normal;color:#0d9648;transform:scaleX(1.0060);-webkit-text-stroke:0.45px #fff;">NOS VISITAN LOS TURISTAS?</div>
<div class="t" style="left:261.78px;top:210.16px;font-size:24px;font-weight:bold;color:#0d9648;transform:scale(1.1570,0.9755);">El</div>
<div class="t" style="left:299.01px;top:190.38px;font-size:46px;font-weight:bold;color:#0d9648;transform:scale(1.2947,1.0133);-webkit-text-stroke:1px #0d9648;">98</div>
<div class="t" style="left:365.05px;top:189.26px;font-size:46px;font-weight:bold;color:#0d9648;transform:scale(0.9034,1.0454);-webkit-text-stroke:0.6px #0d9648;">%</div>
<div class="t" style="left:412.41px;top:206.81px;font-size:26px;font-weight:bold;color:#0d9648;transform:scale(1.1495,1.0090);">de Argentina:</div>
<div class="t" style="left:264.06px;top:243.51px;font-size:26.8px;font-weight:normal;color:#6a6a6a;transform:scaleX(1.1318);-webkit-text-stroke:0.45px #6a6a6a;">Buenos Aires, Santa Fé,</div>
<div class="t" style="left:264.87px;top:276.81px;font-size:26.8px;font-weight:normal;color:#6a6a6a;transform:scaleX(1.1331);-webkit-text-stroke:0.45px #6a6a6a;">Córdoba, La Pampa, Men-</div>
<div class="t" style="left:265.04px;top:311.11px;font-size:26.8px;font-weight:normal;color:#6a6a6a;transform:scaleX(1.1330);-webkit-text-stroke:0.45px #6a6a6a;">doza, Entre Rios, Misiones</div>
<div class="t" style="left:265.45px;top:343.86px;font-size:26.8px;font-weight:normal;color:#6a6a6a;transform:scaleX(1.1475);-webkit-text-stroke:0.45px #6a6a6a;">Chubut, Catamarca y Tierra</div>
<div class="t" style="left:264.66px;top:376.69px;font-size:26.8px;font-weight:normal;color:#6a6a6a;transform:scaleX(1.1594);-webkit-text-stroke:0.45px #6a6a6a;">del Fuego.</div>
<div class="t" style="left:266.99px;top:437.47px;font-size:16.5px;font-weight:bold;color:#0d9648;transform:scale(1.3123,1.0167);">El</div>
<div class="t" style="left:293.05px;top:425.69px;font-size:33px;font-weight:bold;color:#0d9648;transform:scale(1.1765,0.9242);-webkit-text-stroke:0.6px #0d9648;">2</div>
<div class="t" style="left:315.69px;top:424.10px;font-size:33px;font-weight:bold;color:#0d9648;transform:scaleX(0.8729);-webkit-text-stroke:0.4px #0d9648;">%</div>
<div class="t" style="left:349.55px;top:435.92px;font-size:19px;font-weight:bold;color:#0d9648;transform:scale(1.0918,1.0331);">restante de:</div>
<div class="t" style="left:264.03px;top:463.35px;font-size:17.2px;font-weight:normal;color:#6a6a6a;transform:scaleX(1.2464);-webkit-text-stroke:0.3px #6a6a6a;">Uruguay, Perú, España Alemania,</div>
<div class="t" style="left:264.15px;top:486.44px;font-size:17.2px;font-weight:normal;color:#6a6a6a;transform:scaleX(1.2514);-webkit-text-stroke:0.3px #6a6a6a;">Ecuador, Venezuela, Bélgica, Chile</div>
<div class="t" style="left:264.84px;top:508.54px;font-size:17.2px;font-weight:normal;color:#6a6a6a;transform:scaleX(1.2629);-webkit-text-stroke:0.3px #6a6a6a;">y Colombia.</div>
<div class="t" style="left:806.95px;top:251.73px;font-size:44px;font-weight:bold;color:#fff;transform:scale(0.9069,0.9856);-webkit-text-stroke:2px #fff;clip-path:polygon(0 0,74% 0,74% 100%,36% 100%,36% 66%,0 66%);">1</div>
<div class="t" style="left:719.66px;top:267.99px;font-size:46px;font-weight:bold;color:#fff;transform:scale(1.1046,0.9577);-webkit-text-stroke:2px #fff;">2</div>
<div class="t" style="left:888.40px;top:281.92px;font-size:44px;font-weight:bold;color:#fff;transform:scale(1.0113,0.9626);-webkit-text-stroke:2px #fff;">3</div>
<div class="t" style="left:692.51px;top:385.87px;font-size:42px;font-weight:bold;color:#fff;transform:scale(0.9894,1.0311);-webkit-text-stroke:0.6px #fff;clip-path:polygon(0 0,67% 0,67% 100%,42% 100%,42% 71%,0 71%);">1</div>
<div class="t" style="left:694.66px;top:432.19px;font-size:42px;font-weight:bold;color:#fff;transform:scale(1.0609,1.0230);-webkit-text-stroke:0.6px #fff;">2</div>
<div class="t" style="left:695.47px;top:479.07px;font-size:42px;font-weight:bold;color:#fff;transform:scale(1.0283,1.0228);-webkit-text-stroke:0.6px #fff;">3</div>
<div class="t" style="left:711.37px;top:385.94px;font-size:44px;font-weight:normal;color:#fff;transform:scale(1.1535,1.1084);-webkit-text-stroke:0.7px #fff;">°</div>
<div class="t" style="left:720.38px;top:432.80px;font-size:44px;font-weight:normal;color:#fff;transform:scale(1.1581,1.1192);-webkit-text-stroke:0.7px #fff;">°</div>
<div class="t" style="left:719.95px;top:479.44px;font-size:44px;font-weight:normal;color:#fff;transform:scale(1.1537,1.0758);-webkit-text-stroke:0.7px #fff;">°</div>
<div class="t" style="left:744.18px;top:392.29px;font-size:27px;font-weight:normal;color:#fff;transform:scaleX(1.2223);-webkit-text-stroke:0.5px #fff;">Buenos Aires</div>
<div class="t" style="left:744.04px;top:441.29px;font-size:27px;font-weight:normal;color:#fff;transform:scaleX(1.1827);-webkit-text-stroke:0.5px #fff;">Santa Fé</div>
<div class="t" style="left:743.77px;top:489.49px;font-size:27px;font-weight:normal;color:#fff;transform:scaleX(1.2253);-webkit-text-stroke:0.5px #fff;">Córdoba</div>
</body></html>
